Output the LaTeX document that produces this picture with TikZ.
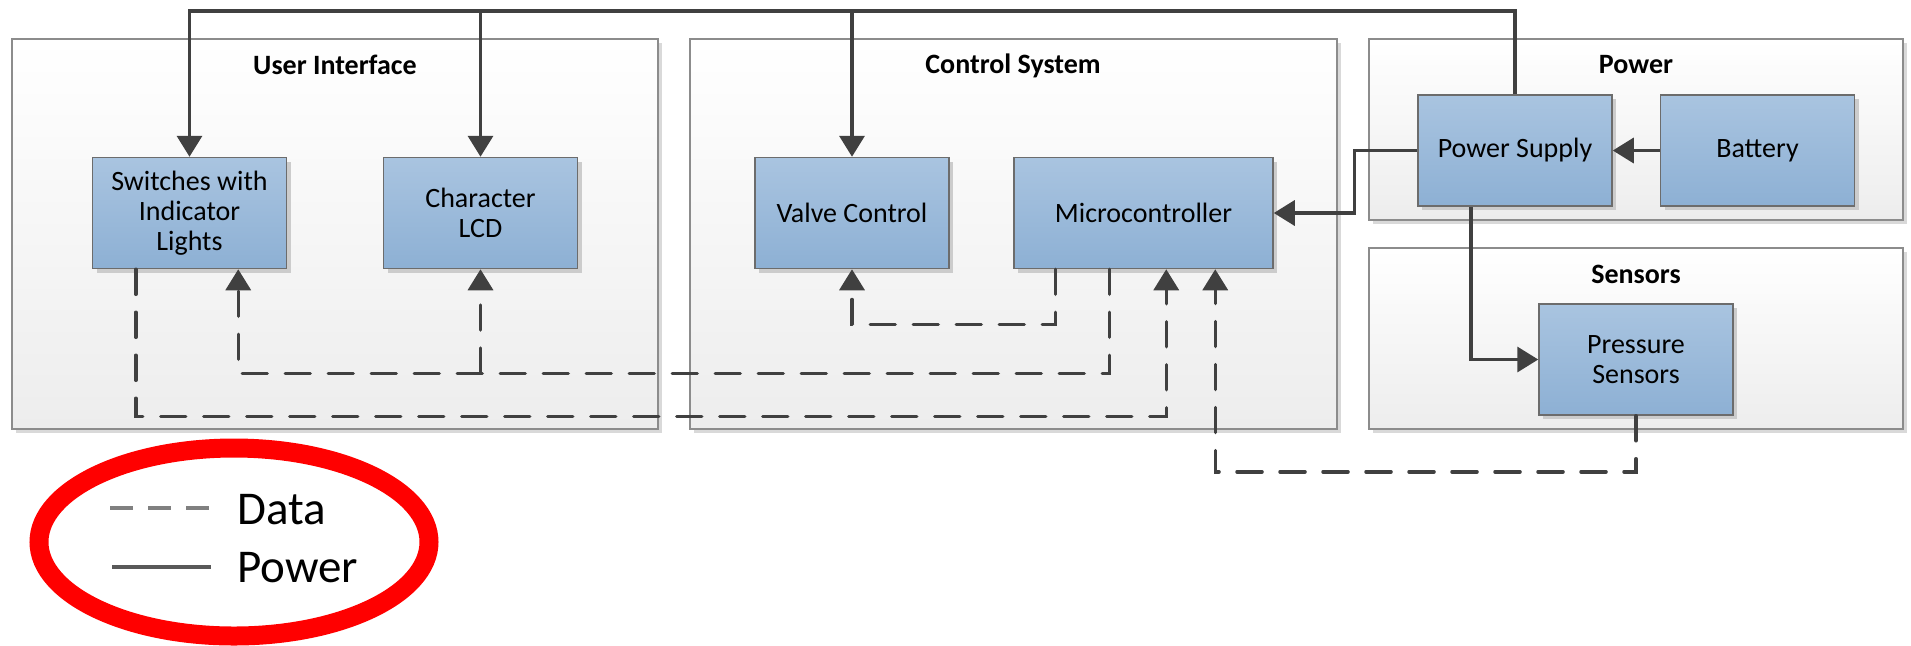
\documentclass[tikz,border=0pt]{standalone}
\usepackage{fontspec}
\setmainfont{Carlito}
\usepackage{tikz}
\usetikzlibrary{arrows.meta}
\usetikzlibrary{positioning}
\usetikzlibrary{shadows}
\definecolor{linegray}{HTML}{404040}
\definecolor{blocktop}{HTML}{A9C4E0}
\definecolor{blockbot}{HTML}{8DB0D4}
\definecolor{blockline}{HTML}{6C6C6C}
\definecolor{groupbot}{HTML}{EDEDED}
\definecolor{groupline}{HTML}{8C8C8C}
\tikzset{
	group/.style={draw=groupline, line width=0.75pt, top color=white, bottom color=groupbot,
		drop shadow={shadow xshift=2pt, shadow yshift=-2pt, fill=black!15, opacity=1}},
	grouptitle/.style={font=\fontsize{14}{15}\selectfont\bfseries, anchor=base, inner sep=0pt},
	block/.style={draw=blockline, line width=0.75pt, top color=blocktop, bottom color=blockbot,
		minimum width=97pt, minimum height=55.5pt, align=center, inner sep=2pt,
		font=\fontsize{14}{15}\selectfont,
		drop shadow={shadow xshift=2pt, shadow yshift=-2pt, fill=black!20, opacity=1}},
	power/.style={draw=linegray, line width=1.75pt, -{Triangle[length=10.5pt,width=12.5pt]}},
	data/.style={power, line cap=round, dash pattern=on 12.5pt off 9pt},
	legtext/.style={font=\fontsize{23.5}{26}\selectfont, anchor=base west, inner sep=0pt},
}

\begin{document}
\begin{tikzpicture}[x=0.5pt, y=-0.5pt]
	\useasboundingbox (0,0) rectangle (1911,645);
	% subsystems
	\node[group, minimum width=323pt, minimum height=195pt] (ui) at (335,234) {};
	\node[group, minimum width=323.5pt, minimum height=195pt] (cs) at (1013.5,234) {};
	\node[group, minimum width=267pt, minimum height=90.5pt] (pw) at (1636,129.5) {};
	\node[group, minimum width=267pt, minimum height=90.5pt] (sn) at (1636,338.5) {};
	\node[grouptitle] (uit) at (335,74) {User Interface};
	\node[grouptitle] (cst) at (1013,73.5) {Control System};
	\node[grouptitle] (pwt) at (1636,73.5) {Power};
	\node[grouptitle] (snt) at (1636,283) {Sensors};
	% blocks
	\node[block] (sw) at (189.5,213) {Switches with\\Indicator\\Lights};
	\node[block] (lcd) at (480.5,213) {Character\\LCD};
	\node[block] (vc) at (852,213) {Valve Control};
	\node[block, minimum width=129.5pt] (mcu) at (1143.5,213) {Microcontroller};
	\node[block] (psu) at (1515,150.5) {Power Supply};
	\node[block] (bat) at (1757.5,150.5) {Battery};
	\node[block] (prs) at (1636,359.5) {Pressure\\Sensors};
	% power lines
	\coordinate (pbus) at (0,11);
	\draw[power] (psu.north) |- (pbus -| sw.north) -- (sw.north);
	\draw[power] (pbus -| lcd.north) -- (lcd.north);
	\draw[power] (pbus -| vc.north) -- (vc.north);
	\draw[power] (bat) -- (psu);
	\draw[power] (psu.west) -- ++(-63,0) |- (mcu.east);
	\draw[power] ([xshift=-22pt]psu.south) |- (prs.west);
	% data lines
	\draw[data] ([xshift=21pt]mcu.south west) -- ++(0,55) -| (vc.south);
	\coordinate (dbus) at (0,373);
	\draw[data] ([xshift=48pt]mcu.south west) -- ++(0,104) -| ([xshift=-24.5pt]sw.south east);
	\draw[data] (dbus -| lcd.south) -- (lcd.south);
	\draw[data] ([xshift=22pt]sw.south west) -- ++(0,147) -| ([xshift=76.5pt]mcu.south west);
	\draw[data] (prs.south) -- ++(0,56) -| ([xshift=101pt]mcu.south west);
	% legend
	\draw[red, line width=9.5pt] (234,542) ellipse [x radius=195, y radius=94];
	\node[legtext] (ldata) at (237,524) {Data};
	\node[legtext] (lpower) at (237,582) {Power};
	\draw[black!50, line width=2pt, dash pattern=on 11.5pt off 7.5pt] (110,508) -- (210,508);
	\draw[black!65, line width=2pt] (112,567) -- (211,567);
\end{tikzpicture}
\end{document}
